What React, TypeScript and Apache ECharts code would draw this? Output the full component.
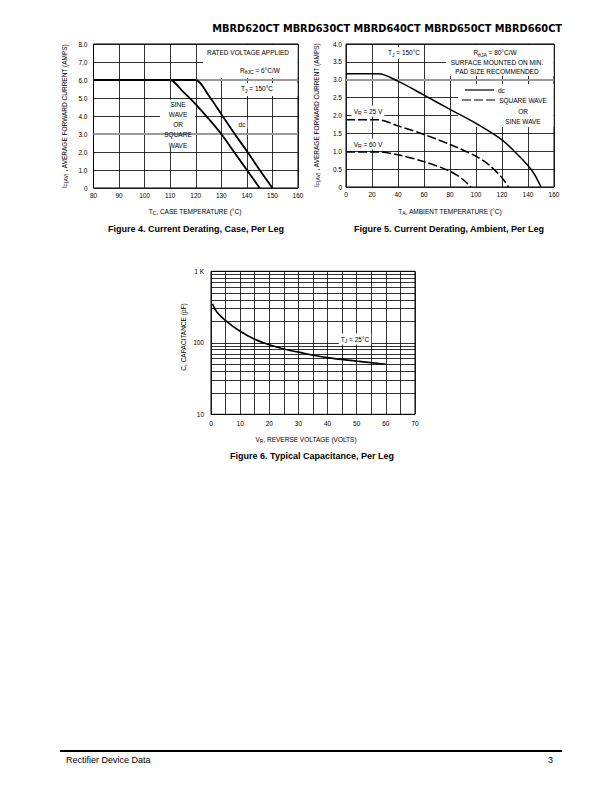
import React, { useEffect, useRef } from 'react';
import * as echarts from 'echarts';

// Figure 4 – Current derating, case
const caseTempSine = [80, 110, 115, 120, 125, 130, 135, 140, 145];
const currentSine = [6.0, 6.0, 5.35, 4.65, 3.85, 3.0, 2.0, 1.0, 0];
const caseTempDc = [80, 120, 125, 130, 135, 140, 145, 150];
const currentDc = [6.0, 6.0, 5.15, 4.1, 3.05, 2.05, 1.0, 0];

// Figure 5 – Current derating, ambient
const ambTempDc = [0, 25, 40, 60, 80, 100, 120, 130, 140, 145, 150];
const ambCurrentDc = [3.17, 3.17, 2.96, 2.57, 2.17, 1.78, 1.32, 0.98, 0.6, 0.35, 0];
const ambTemp25 = [0, 25, 40, 60, 80, 100, 110, 120, 125];
const ambCurrent25 = [1.88, 1.88, 1.71, 1.47, 1.19, 0.86, 0.62, 0.26, 0];
const ambTemp60 = [0, 25, 40, 60, 80, 90, 96];
const ambCurrent60 = [0.98, 0.98, 0.9, 0.71, 0.44, 0.21, 0];

// Figure 6 – Capacitance
const revVoltage = [0.5, 2, 5, 10, 15, 20, 25, 30, 40, 50, 60];
const capacitance = [350, 270, 205, 145, 112, 94, 82, 74, 62, 55.5, 50];
const capMinorLines = [20, 30, 40, 50, 60, 70, 80, 90, 200, 300, 400, 500, 600, 700, 800, 900];

const FONT = 'Liberation Sans';
const zip = (xs: number[], ys: number[]) => xs.map((x, i) => [x, ys[i]]);

const subRich = {
  sub: { fontSize: 5, fontFamily: FONT, padding: [4, 0, 0, 0], fill: '#000' },
};

function txt(text: string, x: number, y: number, opts: any = {}) {
  return {
    type: 'text',
    x,
    y,
    z: 6,
    rotation: opts.rotation || 0,
    style: {
      text,
      fontSize: opts.fontSize || 6.5,
      fontFamily: opts.fontFamily || FONT,
      fontWeight: opts.fontWeight || 'normal',
      fill: '#000',
      align: opts.align || 'center',
      verticalAlign: 'middle',
      rich: subRich,
      backgroundColor: opts.bg ? '#fff' : undefined,
      padding: opts.bg ? [1, 2, 1, 2] : undefined,
    },
  };
}
function box(x: number, y: number, w: number, h: number) {
  return { type: 'rect', z: 5, shape: { x, y, width: w, height: h }, style: { fill: '#fff' } };
}

const axisLabel = { fontSize: 6.5, fontFamily: FONT, color: '#000' };
const splitBlack = { show: true, lineStyle: { color: '#000', width: 0.8 } };

export default function App() {
  const ref = useRef<HTMLDivElement>(null);
  useEffect(() => {
    const chart = echarts.init(ref.current!, null, { renderer: 'svg' });
    const grayLine = { color: '#9a9a9a', width: 1.8, type: 'solid' };
    const option: any = {
      animation: false,
      backgroundColor: '#fff',
      grid: [
        { left: 93.5, top: 44, width: 204.5, height: 144, show: true, borderColor: '#000', borderWidth: 1 },
        { left: 346, top: 44, width: 208, height: 143, show: true, borderColor: '#000', borderWidth: 1 },
        { left: 211, top: 271.3, width: 204, height: 143, show: true, borderColor: '#000', borderWidth: 1 },
      ],
      xAxis: [
        {
          gridIndex: 0, type: 'value', min: 80, max: 160, interval: 10,
          axisLine: { show: false }, axisTick: { show: false },
          axisLabel: { ...axisLabel, margin: 4 }, splitLine: splitBlack,
        },
        {
          gridIndex: 1, type: 'value', min: 0, max: 160, interval: 20,
          axisLine: { show: false }, axisTick: { show: false },
          axisLabel: { ...axisLabel, margin: 4 }, splitLine: splitBlack,
        },
        {
          gridIndex: 2, type: 'value', min: 0, max: 70, interval: 5,
          axisLine: { show: false }, axisTick: { show: false },
          axisLabel: { ...axisLabel, margin: 6, formatter: (v: number) => (v % 10 === 0 ? String(v) : '') },
          splitLine: splitBlack,
        },
      ],
      yAxis: [
        {
          gridIndex: 0, type: 'value', min: 0, max: 8, interval: 1,
          axisLine: { show: false }, axisTick: { show: false },
          axisLabel: { ...axisLabel, margin: 6, formatter: (v: number) => (v === 0 ? '0' : v.toFixed(1)) },
          splitLine: splitBlack,
        },
        {
          gridIndex: 1, type: 'value', min: 0, max: 4, interval: 0.5,
          axisLine: { show: false }, axisTick: { show: false },
          axisLabel: { ...axisLabel, margin: 4, formatter: (v: number) => (v === 0 ? '0' : v.toFixed(1)) },
          splitLine: splitBlack,
        },
        {
          gridIndex: 2, type: 'log', min: 10, max: 1000, logBase: 10,
          axisLine: { show: false }, axisTick: { show: false },
          axisLabel: { ...axisLabel, margin: 7, formatter: (v: number) => (v >= 1000 ? '1 K' : String(Math.round(v))) },
          splitLine: splitBlack,
        },
      ],
      series: [
        {
          type: 'line', xAxisIndex: 0, yAxisIndex: 0, data: [], z: 2,
          markLine: {
            silent: true, symbol: ['none', 'none'], label: { show: false },
            lineStyle: grayLine, data: [{ yAxis: 6 }, { yAxis: 3 }],
          },
        },
        {
          type: 'line', xAxisIndex: 0, yAxisIndex: 0, data: zip(caseTempSine, currentSine), z: 10,
          showSymbol: false, smooth: 0.25, lineStyle: { color: '#000', width: 1.8 },
        },
        {
          type: 'line', xAxisIndex: 0, yAxisIndex: 0, data: zip(caseTempDc, currentDc), z: 10,
          showSymbol: false, smooth: 0.25, lineStyle: { color: '#000', width: 1.8 },
        },
        {
          type: 'line', xAxisIndex: 1, yAxisIndex: 1, data: [], z: 2,
          markLine: {
            silent: true, symbol: ['none', 'none'], label: { show: false },
            lineStyle: grayLine, data: [{ yAxis: 3 }],
          },
        },
        {
          type: 'line', xAxisIndex: 1, yAxisIndex: 1, data: zip(ambTempDc, ambCurrentDc), z: 10,
          showSymbol: false, smooth: 0.3, lineStyle: { color: '#000', width: 1.5 },
        },
        {
          type: 'line', xAxisIndex: 1, yAxisIndex: 1, data: zip(ambTemp25, ambCurrent25), z: 10,
          showSymbol: false, smooth: 0.3, lineStyle: { color: '#000', width: 1.5, type: [9, 3] },
        },
        {
          type: 'line', xAxisIndex: 1, yAxisIndex: 1, data: zip(ambTemp60, ambCurrent60), z: 10,
          showSymbol: false, smooth: 0.3, lineStyle: { color: '#000', width: 1.5, type: [9, 3] },
        },
        {
          type: 'line', xAxisIndex: 2, yAxisIndex: 2, data: [], z: 2,
          markLine: {
            silent: true, symbol: ['none', 'none'], label: { show: false },
            lineStyle: { color: '#000', width: 0.8, type: 'solid' },
            data: capMinorLines.map((v) => ({ yAxis: v })),
          },
        },
        {
          type: 'line', xAxisIndex: 2, yAxisIndex: 2, data: zip(revVoltage, capacitance), z: 10,
          showSymbol: false, smooth: 0.35, lineStyle: { color: '#000', width: 1.6 },
        },
      ],
      graphic: [
        // header
        txt('MBRD620CT MBRD630CT MBRD640CT MBRD650CT MBRD660CT', 562, 28, { align: 'right', fontSize: 9.8, fontWeight: 'bold', fontFamily: 'DejaVu Sans' }),
        // Figure 4 annotations
        box(203, 45, 94.5, 33),
        txt('RATED VOLTAGE APPLIED', 248, 52),
        txt('R{sub|θJC} = 6°C/W', 260, 70),
        box(228, 83, 69.5, 13),
        txt('T{sub|J} = 150°C', 257, 88.5),
        box(160, 99.5, 35, 48.5),
        txt('SINE', 178, 104),
        txt('WAVE', 178, 114.5),
        txt('OR', 178, 124.5),
        txt('SQUARE', 178, 134.5),
        txt('WAVE', 178, 145),
        txt('dc', 242, 124, { bg: true }),
        // Figure 5 annotations
        box(386, 47, 36, 12),
        txt('T{sub|J} = 150°C', 404, 52.5),
        box(446, 45, 107.5, 31),
        txt('R{sub|θJA} = 80°C/W', 495, 52.5),
        txt('SURFACE MOUNTED ON MIN.', 497, 62),
        txt('PAD SIZE RECOMMENDED', 497, 71),
        box(458, 84, 95.5, 43),
        { type: 'line', z: 6, shape: { x1: 465, y1: 90, x2: 494, y2: 90 }, style: { stroke: '#000', lineWidth: 1.2 } },
        txt('dc', 498, 90, { align: 'left' }),
        { type: 'line', z: 6, shape: { x1: 462, y1: 100, x2: 495, y2: 100 }, style: { stroke: '#000', lineWidth: 1.2, lineDash: [9, 3] } },
        txt('SQUARE WAVE', 523, 100),
        txt('OR', 523, 111),
        txt('SINE WAVE', 523, 121),
        txt('V{sub|R} = 25 V', 368, 111, { bg: true }),
        txt('V{sub|R} = 60 V', 368, 144, { bg: true }),
        // Figure 6 annotation
        txt('T{sub|J} = 25°C', 355, 339, { bg: true }),
        // axis titles
        txt('T{sub|C}, CASE TEMPERATURE (°C)', 195, 211),
        txt('I{sub|F(AV)} , AVERAGE FORWARD CURRENT (AMPS)', 64, 116, { rotation: Math.PI / 2 }),
        txt('T{sub|A}, AMBIENT TEMPERATURE (°C)', 450, 211),
        txt('I{sub|F(AV)} , AVERAGE FORWARD CURRENT (AMPS)', 316, 115, { rotation: Math.PI / 2 }),
        txt('V{sub|R}, REVERSE VOLTAGE (VOLTS)', 306, 439),
        txt('C, CAPACITANCE (pF)', 183, 337, { rotation: Math.PI / 2 }),
        // captions
        txt('Figure 4. Current Derating, Case, Per Leg', 196, 229, { fontSize: 9, fontWeight: 'bold' }),
        txt('Figure 5. Current Derating, Ambient, Per Leg', 449, 229, { fontSize: 9, fontWeight: 'bold' }),
        txt('Figure 6. Typical Capacitance, Per Leg', 312, 456, { fontSize: 9, fontWeight: 'bold' }),
        // footer
        { type: 'line', z: 6, shape: { x1: 60, y1: 751, x2: 562, y2: 751 }, style: { stroke: '#000', lineWidth: 2 } },
        txt('Rectifier Device Data', 66, 760, { align: 'left', fontSize: 9 }),
        txt('3', 553, 760, { align: 'right', fontSize: 9 }),
      ],
    };
    chart.setOption(option);
    return () => chart.dispose();
  }, []);
  return (
    <div
      ref={ref}
      style={{ position: 'absolute', left: 0, top: 0, width: 612, height: 792, background: '#fff' }}
    />
  );
}
